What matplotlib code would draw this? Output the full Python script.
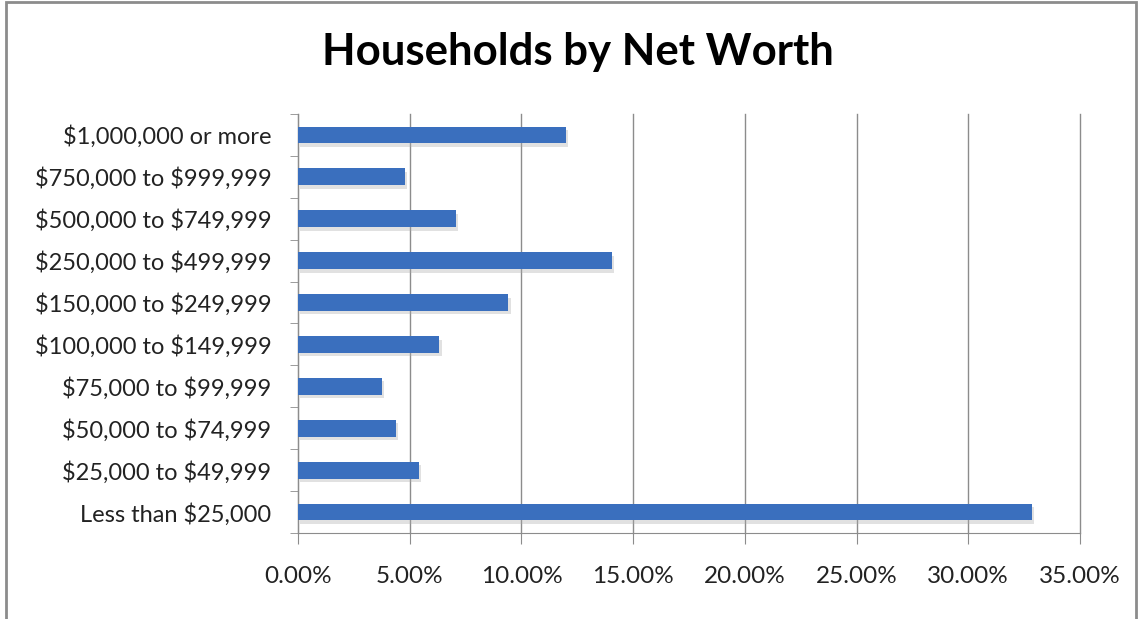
import numpy as np
import matplotlib.pyplot as plt
import matplotlib.patheffects as pe
from matplotlib.patches import Rectangle

categories = ["Less than $25,000", "$25,000 to $49,999", "$50,000 to $74,999",
              "$75,000 to $99,999", "$100,000 to $149,999", "$150,000 to $249,999",
              "$250,000 to $499,999", "$500,000 to $749,999", "$750,000 to $999,999",
              "$1,000,000 or more"]
shares = [32.86, 5.40, 4.37, 3.74, 6.33, 9.42, 14.06, 7.06, 4.78, 12.00]
xticks = [0, 5, 10, 15, 20, 25, 30, 35]

plt.rcParams['font.family'] = ['Lato', 'DejaVu Sans']
plt.rcParams['text.parse_math'] = False

fig = plt.figure(figsize=(11.4, 6.19), dpi=100)
# outer chart border
fig.patches.append(Rectangle((6/1140, -0.01), (1136-6)/1140, 1 - 2/619 + 0.01,
                             transform=fig.transFigure, fill=False,
                             edgecolor='#8c8c8c', linewidth=2))

ax = fig.add_axes([298/1140, 1 - 533/619, (1080-298)/1140, (533-114)/619])
y = np.arange(len(categories))
bars = ax.barh(y, shares, height=0.4, color='#3a6fbe', zorder=3)
for b in bars:
    b.set_path_effects([pe.SimplePatchShadow(offset=(1.5, -2.5), shadow_rgbFace='#aaaaaa', alpha=0.35),
                        pe.Normal()])

ax.set_xlim(0, 35)
ax.set_ylim(-0.5, len(categories) - 0.5)
ax.set_xticks(xticks)
ax.set_xticklabels([f"{v:.2f}%" for v in xticks], fontsize=17.5, color='#222222')
ax.set_yticks(y)
ax.set_yticklabels(categories, fontsize=17, color='#222222')
ax.set_yticks(np.arange(-0.5, len(categories), 1), minor=True)
ax.tick_params(axis='y', which='major', length=0, pad=19)
ax.tick_params(axis='y', which='minor', length=6, color='#8c8c8c', direction='out')
ax.tick_params(axis='x', length=8, color='#8c8c8c', pad=16)
ax.grid(axis='x', color='#8c8c8c', linewidth=1, zorder=0)
for gl in ax.get_xgridlines():
    gl.set_clip_on(False)
for s in ['top', 'right']:
    ax.spines[s].set_visible(False)
for s in ['left', 'bottom']:
    ax.spines[s].set_color('#8c8c8c')

fig.text(578/1140, 1 - 52/619, "Households by Net Worth", ha='center', va='center',
         fontsize=31.5, fontweight='bold', color='black')

fig.savefig("out.png", dpi=100)
